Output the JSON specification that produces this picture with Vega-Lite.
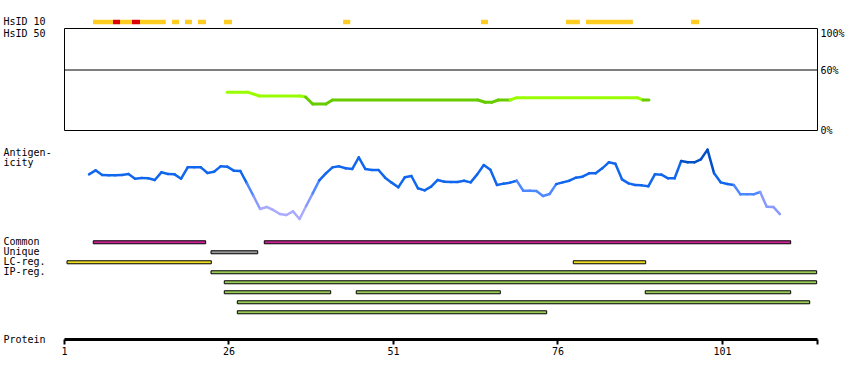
{
  "$schema": "https://vega.github.io/schema/vega-lite/v6.json",
  "background": "white",
  "padding": {"left": 2, "top": 16, "right": 2, "bottom": 5},
  "config": {
    "view": {"stroke": null},
    "font": "DejaVu Sans Mono",
    "axis": {
      "tickSize": 0,
      "grid": false,
      "labelFont": "DejaVu Sans Mono",
      "titleFont": "DejaVu Sans Mono",
      "labelFontSize": 10,
      "titleFontSize": 10,
      "titleFontWeight": "normal",
      "labelColor": "#000000",
      "titleColor": "#000000"
    }
  },
  "datasets": {
    "hs10": [
      {"start": 5.41, "end": 8.45, "level": "mid"},
      {"start": 8.45, "end": 9.51, "level": "high"},
      {"start": 9.51, "end": 11.33, "level": "mid"},
      {"start": 11.33, "end": 12.55, "level": "high"},
      {"start": 12.55, "end": 16.46, "level": "mid"},
      {"start": 17.41, "end": 18.48, "level": "mid"},
      {"start": 19.39, "end": 20.45, "level": "mid"},
      {"start": 21.36, "end": 22.58, "level": "mid"},
      {"start": 25.32, "end": 26.53, "level": "mid"},
      {"start": 43.42, "end": 44.5, "level": "mid"},
      {"start": 64.37, "end": 65.44, "level": "mid"},
      {"start": 77.28, "end": 79.4, "level": "mid"},
      {"start": 80.32, "end": 87.46, "level": "mid"},
      {"start": 96.3, "end": 97.53, "level": "mid"}
    ],
    "hs50": [
      {"x": 25.8, "x2": 29.0, "y": 37.7, "y2": 37.7, "band": "above"},
      {"x": 29.0, "x2": 30.7, "y": 37.7, "y2": 34.0, "band": "above"},
      {"x": 30.7, "x2": 36.9, "y": 34.0, "y2": 34.0, "band": "above"},
      {"x": 36.9, "x2": 37.7, "y": 34.0, "y2": 33.0, "band": "above"},
      {"x": 37.7, "x2": 38.8, "y": 33.0, "y2": 26.0, "band": "below"},
      {"x": 38.8, "x2": 40.8, "y": 26.0, "y2": 26.0, "band": "below"},
      {"x": 40.8, "x2": 41.8, "y": 26.0, "y2": 30.0, "band": "below"},
      {"x": 41.8, "x2": 63.9, "y": 30.0, "y2": 30.0, "band": "below"},
      {"x": 63.9, "x2": 65.0, "y": 30.0, "y2": 27.7, "band": "below"},
      {"x": 65.0, "x2": 66.0, "y": 27.7, "y2": 27.7, "band": "below"},
      {"x": 66.0, "x2": 67.0, "y": 27.7, "y2": 30.0, "band": "below"},
      {"x": 67.0, "x2": 68.8, "y": 30.0, "y2": 30.0, "band": "below"},
      {"x": 68.8, "x2": 69.8, "y": 30.0, "y2": 32.3, "band": "above"},
      {"x": 69.8, "x2": 88.1, "y": 32.3, "y2": 32.3, "band": "above"},
      {"x": 88.1, "x2": 89.0, "y": 32.3, "y2": 30.0, "band": "above"},
      {"x": 89.0, "x2": 89.9, "y": 30.0, "y2": 30.0, "band": "below"}
    ],
    "antig": [
      {"x": 4.8, "x2": 5.8, "y": 63.4, "y2": 69.0, "shade": "m"},
      {"x": 5.8, "x2": 6.8, "y": 69.0, "y2": 62.5, "shade": "m"},
      {"x": 6.8, "x2": 7.8, "y": 62.5, "y2": 62.0, "shade": "m"},
      {"x": 7.8, "x2": 8.8, "y": 62.0, "y2": 62.0, "shade": "m"},
      {"x": 8.8, "x2": 9.8, "y": 62.0, "y2": 62.5, "shade": "m"},
      {"x": 9.8, "x2": 10.8, "y": 62.5, "y2": 63.9, "shade": "m"},
      {"x": 10.8, "x2": 11.8, "y": 63.9, "y2": 57.4, "shade": "m"},
      {"x": 11.8, "x2": 12.8, "y": 57.4, "y2": 58.3, "shade": "m"},
      {"x": 12.8, "x2": 13.8, "y": 58.3, "y2": 57.9, "shade": "m"},
      {"x": 13.8, "x2": 14.8, "y": 57.9, "y2": 55.6, "shade": "m"},
      {"x": 14.8, "x2": 15.8, "y": 55.6, "y2": 66.2, "shade": "m"},
      {"x": 15.8, "x2": 16.8, "y": 66.2, "y2": 63.9, "shade": "m"},
      {"x": 16.8, "x2": 17.8, "y": 63.9, "y2": 63.4, "shade": "m"},
      {"x": 17.8, "x2": 18.8, "y": 63.4, "y2": 57.4, "shade": "m"},
      {"x": 18.8, "x2": 19.8, "y": 57.4, "y2": 73.1, "shade": "m"},
      {"x": 19.8, "x2": 20.8, "y": 73.1, "y2": 73.1, "shade": "m"},
      {"x": 20.8, "x2": 21.8, "y": 73.1, "y2": 73.1, "shade": "m"},
      {"x": 21.8, "x2": 22.8, "y": 73.1, "y2": 65.3, "shade": "m"},
      {"x": 22.8, "x2": 23.8, "y": 65.3, "y2": 67.1, "shade": "m"},
      {"x": 23.8, "x2": 24.8, "y": 67.1, "y2": 74.5, "shade": "m"},
      {"x": 24.8, "x2": 25.8, "y": 74.5, "y2": 74.1, "shade": "m"},
      {"x": 25.8, "x2": 26.8, "y": 74.1, "y2": 68.5, "shade": "m"},
      {"x": 26.8, "x2": 27.8, "y": 68.5, "y2": 68.1, "shade": "m"},
      {"x": 27.8, "x2": 28.8, "y": 68.1, "y2": 50.9, "shade": "m"},
      {"x": 28.8, "x2": 29.8, "y": 50.9, "y2": 33.3, "shade": "l"},
      {"x": 29.8, "x2": 30.8, "y": 33.3, "y2": 15.3, "shade": "p"},
      {"x": 30.8, "x2": 31.8, "y": 15.3, "y2": 18.1, "shade": "v"},
      {"x": 31.8, "x2": 32.8, "y": 18.1, "y2": 13.9, "shade": "v"},
      {"x": 32.8, "x2": 33.8, "y": 13.9, "y2": 8.3, "shade": "v"},
      {"x": 33.8, "x2": 34.8, "y": 8.3, "y2": 6.9, "shade": "v"},
      {"x": 34.8, "x2": 35.8, "y": 6.9, "y2": 12.0, "shade": "v"},
      {"x": 35.8, "x2": 36.8, "y": 12.0, "y2": 1.4, "shade": "v"},
      {"x": 36.8, "x2": 37.8, "y": 1.4, "y2": 19.4, "shade": "v"},
      {"x": 37.8, "x2": 38.8, "y": 19.4, "y2": 37.0, "shade": "p"},
      {"x": 38.8, "x2": 39.8, "y": 37.0, "y2": 55.1, "shade": "l"},
      {"x": 39.8, "x2": 40.8, "y": 55.1, "y2": 64.8, "shade": "m"},
      {"x": 40.8, "x2": 41.8, "y": 64.8, "y2": 73.1, "shade": "m"},
      {"x": 41.8, "x2": 42.8, "y": 73.1, "y2": 74.5, "shade": "m"},
      {"x": 42.8, "x2": 43.8, "y": 74.5, "y2": 71.8, "shade": "m"},
      {"x": 43.8, "x2": 44.8, "y": 71.8, "y2": 70.8, "shade": "m"},
      {"x": 44.8, "x2": 45.8, "y": 70.8, "y2": 87.0, "shade": "m"},
      {"x": 45.8, "x2": 46.8, "y": 87.0, "y2": 70.8, "shade": "m"},
      {"x": 46.8, "x2": 47.8, "y": 70.8, "y2": 69.4, "shade": "m"},
      {"x": 47.8, "x2": 48.8, "y": 69.4, "y2": 69.4, "shade": "m"},
      {"x": 48.8, "x2": 49.8, "y": 69.4, "y2": 58.8, "shade": "m"},
      {"x": 49.8, "x2": 50.8, "y": 58.8, "y2": 51.9, "shade": "m"},
      {"x": 50.8, "x2": 51.8, "y": 51.9, "y2": 45.4, "shade": "m"},
      {"x": 51.8, "x2": 52.8, "y": 45.4, "y2": 59.3, "shade": "m"},
      {"x": 52.8, "x2": 53.8, "y": 59.3, "y2": 61.1, "shade": "m"},
      {"x": 53.8, "x2": 54.8, "y": 61.1, "y2": 44.0, "shade": "m"},
      {"x": 54.8, "x2": 55.8, "y": 44.0, "y2": 41.2, "shade": "m"},
      {"x": 55.8, "x2": 56.8, "y": 41.2, "y2": 46.3, "shade": "m"},
      {"x": 56.8, "x2": 57.8, "y": 46.3, "y2": 55.6, "shade": "m"},
      {"x": 57.8, "x2": 58.8, "y": 55.6, "y2": 53.2, "shade": "m"},
      {"x": 58.8, "x2": 59.8, "y": 53.2, "y2": 52.8, "shade": "m"},
      {"x": 59.8, "x2": 60.8, "y": 52.8, "y2": 52.8, "shade": "m"},
      {"x": 60.8, "x2": 61.8, "y": 52.8, "y2": 54.6, "shade": "m"},
      {"x": 61.8, "x2": 62.8, "y": 54.6, "y2": 52.3, "shade": "m"},
      {"x": 62.8, "x2": 63.8, "y": 52.3, "y2": 63.4, "shade": "m"},
      {"x": 63.8, "x2": 64.8, "y": 63.4, "y2": 76.4, "shade": "m"},
      {"x": 64.8, "x2": 65.8, "y": 76.4, "y2": 69.9, "shade": "m"},
      {"x": 65.8, "x2": 66.8, "y": 69.9, "y2": 48.6, "shade": "m"},
      {"x": 66.8, "x2": 67.8, "y": 48.6, "y2": 50.5, "shade": "m"},
      {"x": 67.8, "x2": 68.8, "y": 50.5, "y2": 51.9, "shade": "m"},
      {"x": 68.8, "x2": 69.8, "y": 51.9, "y2": 54.6, "shade": "m"},
      {"x": 69.8, "x2": 70.8, "y": 54.6, "y2": 40.7, "shade": "l"},
      {"x": 70.8, "x2": 71.8, "y": 40.7, "y2": 40.7, "shade": "l"},
      {"x": 71.8, "x2": 72.8, "y": 40.7, "y2": 40.3, "shade": "l"},
      {"x": 72.8, "x2": 73.8, "y": 40.3, "y2": 33.3, "shade": "l"},
      {"x": 73.8, "x2": 74.8, "y": 33.3, "y2": 36.1, "shade": "l"},
      {"x": 74.8, "x2": 75.8, "y": 36.1, "y2": 49.8, "shade": "l"},
      {"x": 75.8, "x2": 76.8, "y": 49.8, "y2": 52.3, "shade": "m"},
      {"x": 76.8, "x2": 77.8, "y": 52.3, "y2": 54.6, "shade": "m"},
      {"x": 77.8, "x2": 78.8, "y": 54.6, "y2": 58.8, "shade": "m"},
      {"x": 78.8, "x2": 79.8, "y": 58.8, "y2": 60.2, "shade": "m"},
      {"x": 79.8, "x2": 80.8, "y": 60.2, "y2": 64.8, "shade": "m"},
      {"x": 80.8, "x2": 81.8, "y": 64.8, "y2": 64.8, "shade": "m"},
      {"x": 81.8, "x2": 82.8, "y": 64.8, "y2": 71.8, "shade": "m"},
      {"x": 82.8, "x2": 83.8, "y": 71.8, "y2": 80.1, "shade": "m"},
      {"x": 83.8, "x2": 84.8, "y": 80.1, "y2": 78.2, "shade": "m"},
      {"x": 84.8, "x2": 85.8, "y": 78.2, "y2": 56.5, "shade": "m"},
      {"x": 85.8, "x2": 86.8, "y": 56.5, "y2": 50.9, "shade": "m"},
      {"x": 86.8, "x2": 87.8, "y": 50.9, "y2": 48.6, "shade": "m"},
      {"x": 87.8, "x2": 88.8, "y": 48.6, "y2": 48.1, "shade": "m"},
      {"x": 88.8, "x2": 89.8, "y": 48.1, "y2": 46.8, "shade": "m"},
      {"x": 89.8, "x2": 90.8, "y": 46.8, "y2": 63.4, "shade": "m"},
      {"x": 90.8, "x2": 91.8, "y": 63.4, "y2": 63.0, "shade": "m"},
      {"x": 91.8, "x2": 92.8, "y": 63.0, "y2": 57.9, "shade": "m"},
      {"x": 92.8, "x2": 93.8, "y": 57.9, "y2": 57.9, "shade": "m"},
      {"x": 93.8, "x2": 94.8, "y": 57.9, "y2": 81.9, "shade": "m"},
      {"x": 94.8, "x2": 95.8, "y": 81.9, "y2": 80.1, "shade": "d"},
      {"x": 95.8, "x2": 96.8, "y": 80.1, "y2": 80.1, "shade": "d"},
      {"x": 96.8, "x2": 97.8, "y": 80.1, "y2": 84.3, "shade": "d"},
      {"x": 97.8, "x2": 98.8, "y": 84.3, "y2": 97.7, "shade": "d"},
      {"x": 98.8, "x2": 99.8, "y": 97.7, "y2": 64.8, "shade": "d"},
      {"x": 99.8, "x2": 100.8, "y": 64.8, "y2": 52.3, "shade": "m"},
      {"x": 100.8, "x2": 101.8, "y": 52.3, "y2": 50.0, "shade": "m"},
      {"x": 101.8, "x2": 102.8, "y": 50.0, "y2": 48.6, "shade": "m"},
      {"x": 102.8, "x2": 103.8, "y": 48.6, "y2": 35.6, "shade": "l"},
      {"x": 103.8, "x2": 104.8, "y": 35.6, "y2": 35.6, "shade": "l"},
      {"x": 104.8, "x2": 105.8, "y": 35.6, "y2": 35.6, "shade": "l"},
      {"x": 105.8, "x2": 106.8, "y": 35.6, "y2": 38.9, "shade": "l"},
      {"x": 106.8, "x2": 107.8, "y": 38.9, "y2": 18.5, "shade": "p"},
      {"x": 107.8, "x2": 108.8, "y": 18.5, "y2": 18.1, "shade": "p"},
      {"x": 108.8, "x2": 109.8, "y": 18.1, "y2": 8.3, "shade": "p"}
    ],
    "regions": [
      {"start": 5.45, "end": 22.53, "lane": "Common", "kind": "common"},
      {"start": 31.44, "end": 111.44, "lane": "Common", "kind": "common"},
      {"start": 23.34, "end": 30.44, "lane": "Unique", "kind": "unique"},
      {"start": 1.46, "end": 23.39, "lane": "LC-reg.", "kind": "lc"},
      {"start": 78.4, "end": 89.4, "lane": "LC-reg.", "kind": "lc"},
      {"start": 23.34, "end": 115.39, "lane": "IP-reg.", "kind": "ip"},
      {"start": 25.36, "end": 115.39, "lane": "IP-reg. 2", "kind": "ip"},
      {"start": 25.36, "end": 41.53, "lane": "IP-reg. 3", "kind": "ip"},
      {"start": 45.42, "end": 67.31, "lane": "IP-reg. 3", "kind": "ip"},
      {"start": 89.34, "end": 111.44, "lane": "IP-reg. 3", "kind": "ip"},
      {"start": 27.34, "end": 114.33, "lane": "IP-reg. 4", "kind": "ip"},
      {"start": 27.34, "end": 74.36, "lane": "IP-reg. 5", "kind": "ip"}
    ]
  },
  "resolve": {"scale": {"x": "independent", "y": "independent", "color": "independent"}},
  "bounds": "flush",
  "spacing": 0,
  "vconcat": [
    {
      "width": 753,
      "height": 12,
      "data": {"name": "hs10"},
      "transform": [{"calculate": "'HsID 10'", "as": "track"}],
      "mark": {"type": "bar", "height": 4.5},
      "encoding": {
        "x": {"field": "start", "type": "quantitative", "scale": {"domain": [1, 115.44], "nice": false, "zero": false}, "axis": null},
        "x2": {"field": "end"},
        "y": {"field": "track", "type": "nominal", "scale": {"paddingInner": 0, "paddingOuter": 0}, "axis": {"title": null, "domain": false, "ticks": false, "labelAlign": "left", "labelPadding": 61}},
        "color": {"field": "level", "type": "nominal", "scale": {"domain": ["mid", "high"], "range": ["#FFCC22", "#DD0000"]}, "legend": null}
      }
    },
    {
      "width": 753,
      "height": 102,
      "view": {"stroke": "#000000", "strokeWidth": 1},
      "layer": [
        {
          "data": {"name": "hs50"},
          "mark": {"type": "rule", "strokeWidth": 3, "strokeCap": "round"},
          "encoding": {
            "x": {"field": "x", "type": "quantitative", "scale": {"domain": [1, 115.44], "nice": false, "zero": false}, "axis": null},
            "x2": {"field": "x2"},
            "y": {"field": "y", "type": "quantitative", "scale": {"domain": [0, 102], "nice": false}, "axis": {"orient": "left", "labels": false, "ticks": false, "domain": false, "title": "HsID 50", "titleAngle": 0, "titleAlign": "left", "titleBaseline": "middle", "titleX": -61, "titleY": 5}},
            "y2": {"field": "y2"},
            "color": {"field": "band", "type": "nominal", "scale": {"domain": ["above", "below"], "range": ["#99FF00", "#66CC00"]}, "legend": null}
          }
        },
        {
          "data": {"values": [{"threshold": 60}]},
          "mark": {"type": "rule", "color": "#000000", "strokeWidth": 1},
          "encoding": {
            "y": {"field": "threshold", "type": "quantitative", "scale": {"domain": [0, 102], "nice": false}, "axis": {"orient": "right", "values": [0, 60, 100], "labelExpr": "datum.value + '%'", "ticks": false, "domain": false, "labelPadding": 3, "labelFlush": false, "labelBaseline": "middle", "labelOffset": {"condition": {"test": "datum.value == 100", "value": 3}, "value": 0}, "title": null}}
          }
        }
      ],
      "resolve": {"axis": {"y": "independent"}}
    },
    {
      "width": 753,
      "height": 90,
      "layer": [
        {
          "mark": {"type": "rect", "fill": null, "fillOpacity": 0, "stroke": "#000000", "strokeWidth": 1},
          "encoding": {
            "x": {"datum": 1, "type": "quantitative", "scale": {"domain": [1, 115.44], "nice": false, "zero": false}, "axis": null},
            "x2": {"datum": 115.44},
            "y": {"datum": 0, "type": "quantitative", "scale": {"domain": [0, 125], "nice": false, "zero": false}, "axis": {"labels": false, "ticks": false, "domain": false, "title": ["Antigen-", "icity"], "titleAngle": 0, "titleAlign": "left", "titleBaseline": "top", "titleLineHeight": 10.6, "titleX": -61, "titleY": 17}},
            "y2": {"datum": 100}
          }
        },
        {
          "data": {"name": "antig"},
          "mark": {"type": "rule", "strokeWidth": 2.5, "strokeCap": "round"},
          "encoding": {
            "x": {"field": "x", "type": "quantitative", "scale": {"domain": [1, 115.44], "nice": false, "zero": false}, "axis": null},
            "x2": {"field": "x2"},
            "y": {"field": "y", "type": "quantitative", "scale": {"domain": [0, 125], "nice": false, "zero": false}, "axis": {"labels": false, "ticks": false, "domain": false, "title": ["Antigen-", "icity"], "titleAngle": 0, "titleAlign": "left", "titleBaseline": "top", "titleLineHeight": 10.6, "titleX": -61, "titleY": 17}},
            "y2": {"field": "y2"},
            "color": {"field": "shade", "type": "nominal", "scale": {"domain": ["d", "m", "l", "p", "v"], "range": ["#0050C8", "#1166EE", "#4D88FF", "#8899FF", "#AAAAFF"]}, "legend": null}
          }
        }
      ]
    },
    {
      "width": 753,
      "height": 98,
      "data": {"name": "regions"},
      "mark": {"type": "bar", "height": 3, "stroke": "#000000", "strokeWidth": 1},
      "encoding": {
        "x": {"field": "start", "type": "quantitative", "scale": {"domain": [1, 115.44], "nice": false, "zero": false}, "axis": {"orient": "bottom", "offset": 21, "values": [1, 26, 51, 76, 101, 115.44], "labelExpr": "datum.value > 110 ? '' : datum.label", "domainWidth": 3, "domainColor": "#000000", "tickColor": "#000000", "tickSize": 5, "tickWidth": 2, "labelPadding": 2, "labelFlush": false, "labelOverlap": false, "title": "Protein", "titleAngle": 0, "titleAlign": "left", "titleBaseline": "middle", "titleX": -61, "titleY": 0}},
        "x2": {"field": "end"},
        "y": {"field": "lane", "type": "nominal", "scale": {"domain": ["Common", "Unique", "LC-reg.", "IP-reg.", "IP-reg. 2", "IP-reg. 3", "IP-reg. 4", "IP-reg. 5"], "paddingInner": 0, "paddingOuter": 0.9, "align": 0.96}, "axis": {"values": ["Common", "Unique", "LC-reg.", "IP-reg."], "title": null, "domain": false, "ticks": false, "labelAlign": "left", "labelPadding": 61}},
        "color": {"field": "kind", "type": "nominal", "scale": {"domain": ["common", "unique", "lc", "ip"], "range": ["#CC2299", "#999999", "#EEDD22", "#99CC55"]}, "legend": null}
      }
    }
  ]
}
